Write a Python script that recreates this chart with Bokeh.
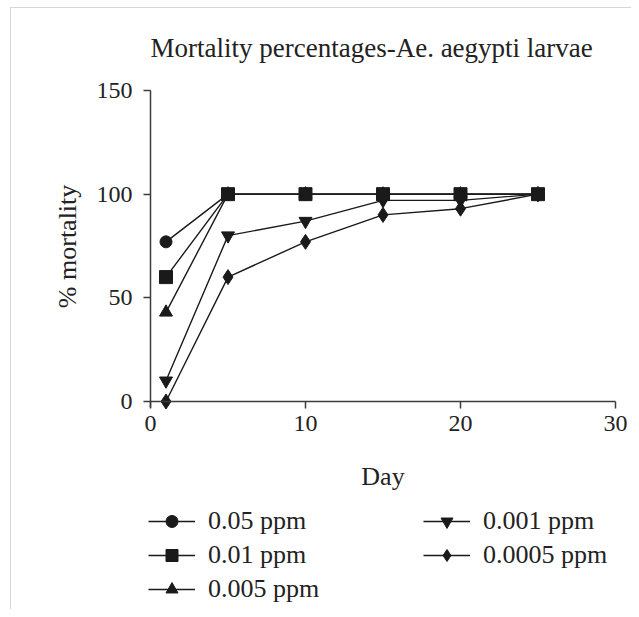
from math import pi
from bokeh.plotting import figure
from bokeh.models import Legend, LegendItem, Range1d, FixedTicker, Label
from bokeh.embed import file_html
from bokeh.resources import INLINE

# ---- data ----
days = [1, 5, 10, 15, 20, 25]
ppm_0_05 = [77, 100, 100, 100, 100, 100]
ppm_0_01 = [60, 100, 100, 100, 100, 100]
ppm_0_005 = [43, 100, 100, 100, 100, 100]
ppm_0_001 = [10, 80, 87, 97, 97, 100]
ppm_0_0005 = [0, 60, 77, 90, 93, 100]
x_ticks = [0, 10, 20, 30]
y_ticks = [0, 50, 100, 150]

FONT = "Liberation Serif"
TXT = "#222222"
INK = "#1a1a1a"
AX = "#3c3c3c"

# The frame covers the whole canvas (nothing is clipped); the axes are pinned at x=0 / y=0
# and bounded to the data extent, as in the reference.
p = figure(frame_width=631, frame_height=609,
           x_range=Range1d(-9.677, 31.032), y_range=Range1d(-100.32, 193.41),
           output_backend="svg", toolbar_location=None,
           min_border_left=0, min_border_right=0, min_border_top=0, min_border_bottom=0)
p.border_fill_color = None
p.background_fill_color = None
p.styles = {
    "background": "linear-gradient(#d6d6d6,#d6d6d6) 10px 7px / 1px 100% no-repeat, "
                  "linear-gradient(#d6d6d6,#d6d6d6) 10px 7px / 100% 1px no-repeat, #ffffff",
}

p.grid.visible = False
p.outline_line_color = None
p.xaxis.fixed_location = 0
p.yaxis.fixed_location = 0
p.xaxis.bounds = (0, 30)
p.yaxis.bounds = (-3, 150)
p.xaxis.ticker = FixedTicker(ticks=x_ticks)
p.yaxis.ticker = FixedTicker(ticks=y_ticks)
p.axis.minor_tick_line_color = None
p.axis.axis_line_width = 1.5
p.axis.axis_line_color = AX
p.axis.major_tick_line_width = 1.5
p.axis.major_tick_line_color = AX
p.axis.major_tick_in = 0
p.axis.major_tick_out = 7
p.axis.major_label_text_font = FONT
p.axis.major_label_text_font_size = "24px"
p.axis.major_label_text_color = TXT
p.xaxis.major_label_standoff = 7
p.yaxis.major_label_standoff = 11

text_style = dict(text_font=FONT, text_color=TXT, text_font_style="normal")
p.add_layout(Label(x=0, y=170.3, text="Mortality percentages-Ae. aegypti larvae",
                   text_font_size="27px", text_align="left", text_baseline="alphabetic",
                   **text_style))
p.add_layout(Label(x=15, y=-36.2, text="Day", text_font_size="26px",
                   text_align="center", text_baseline="alphabetic", **text_style))
p.add_layout(Label(x=-5.36, y=74.8, text="% mortality", angle=pi / 2, text_font_size="26px",
                   text_align="center", text_baseline="middle", **text_style))

series = {
    "0.0005 ppm": (ppm_0_0005, "diamond", 15),
    "0.001 ppm": (ppm_0_001, "inverted_triangle", 13),
    "0.005 ppm": (ppm_0_005, "triangle", 13),
    "0.05 ppm": (ppm_0_05, "circle", 12),
    "0.01 ppm": (ppm_0_01, "square", 13),
}
items = {}
for name, (vals, marker, size) in series.items():
    ln = p.line(days, vals, line_color=INK, line_width=1.4)
    sc = p.scatter(days, vals, marker=marker, size=size, fill_color=INK, line_color=INK)
    items[name] = LegendItem(label=name, renderers=[ln, sc])


def make_legend(names, loc):
    return Legend(items=[items[n] for n in names], location=loc, padding=0, margin=0,
                  spacing=4, glyph_width=47, glyph_height=30, label_height=30,
                  label_standoff=13, border_line_color=None, background_fill_alpha=0,
                  label_text_font=FONT, label_text_font_size="26px", label_text_color=TXT)


p.add_layout(make_legend(["0.05 ppm", "0.01 ppm", "0.005 ppm"], (148, 5)), "center")
p.add_layout(make_legend(["0.001 ppm", "0.0005 ppm"], (423, 39)), "center")

open("out.html", "w").write(file_html(p, INLINE))
